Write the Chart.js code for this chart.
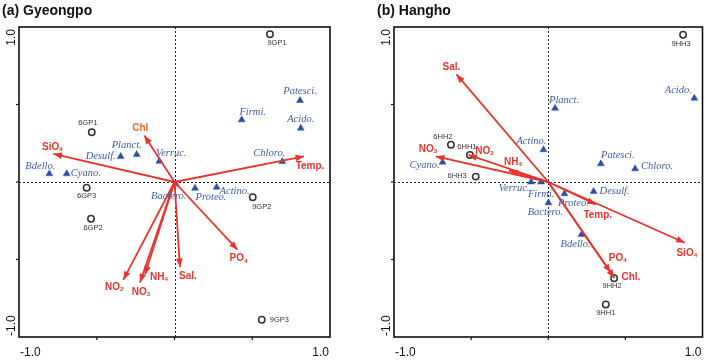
<!DOCTYPE html>
<html><head><meta charset="utf-8">
<script src="https://cdn.jsdelivr.net/npm/chart.js@4/dist/chart.umd.min.js"></script>
<style>
html,body{margin:0;padding:0;background:#fff;}
#wrap{position:relative;width:708px;height:360px;overflow:hidden;background:#fff;}
canvas{position:absolute;top:0;}
</style></head><body>
<div id="wrap">
<canvas id="ca" width="354" height="360" style="left:0"></canvas>
<canvas id="cb" width="354" height="360" style="left:354px"></canvas>
</div>
<script>
// ---------- data ----------
const endTickValues = [-1, 1];
const endTickLabels = ['-1.0', '1.0'];
const minorTickValues = [-0.5, 0, 0.5];

const titleA = '(a) Gyeongpo';
const sitesA  = ['9GP1','6GP1','6GP3','6GP2','9GP2','9GP3'];
const sitesAX = [0.614,-0.532,-0.565,-0.537,0.503,0.561];
const sitesAY = [0.953,0.321,-0.037,-0.237,-0.098,-0.889];
const taxaA  = ['Patesci.','Firmi.','Acido.','Chloro.','Planct.','Desulf.','Verruc.','Bdello.','Cyano.','Bactero.','Proteo.','Actino.'];
const taxaAX = [0.807,0.432,0.812,0.693,-0.243,-0.346,-0.098,-0.805,-0.693,0.008,0.132,0.271];
const taxaAY = [0.526,0.401,0.347,0.132,0.177,0.165,0.134,0.053,0.053,-0.012,-0.040,-0.034];
const varsA  = ['Temp.','Chl','SiO₄','PO₄','Sal.','NH₄','NO₃','NO₂'];
const varsAX = [0.833,-0.194,-0.779,0.405,0.035,-0.190,-0.222,-0.329];
const varsAY = [0.166,0.300,0.182,-0.437,-0.548,-0.597,-0.648,-0.631];

const titleB = '(b) Hangho';
const sitesB  = ['9HH3','6HH2','6HH1','6HH3','9HH2','9HH1'];
const sitesBX = [0.874,-0.631,-0.508,-0.470,0.427,0.373];
const sitesBY = [0.950,0.240,0.175,0.035,-0.621,-0.790];
const taxaB  = ['Acido.','Planct.','Actino.','Cyano.','Patesci.','Chloro.','Verruc.','Firmi.','Bactero.','Proteo.','Desulf.','Bdello.'];
const taxaBX = [0.947,0.044,-0.031,-0.685,0.341,0.563,-0.111,-0.046,0.001,0.105,0.294,0.216];
const taxaBY = [0.541,0.476,0.208,0.128,0.117,0.085,0.000,0.000,-0.134,-0.076,-0.061,-0.339];
const varsB  = ['Sal.','NO₃','NO₂','NH₄','Temp.','SiO₄','PO₄','Chl.'];
const varsBX = [-0.595,-0.728,-0.517,-0.255,0.308,0.885,0.405,0.429];
const varsBY = [0.694,0.165,0.175,0.074,-0.145,-0.392,-0.584,-0.619];

// ---------- label layout (pixel offsets from the mark, alignment) ----------
const siteLabPosA = [[7,9,'c'],[-4,-9,'c'],[0,8,'c'],[2,9,'c'],[9,10,'c'],[8,0,'l']];
const taxaLabPosA = [[0,-9,'c'],[11,-8,'c'],[0,-9,'c'],[-13,-8,'c'],[-10,-9,'c'],[-5,0,'r'],[12,-8,'c'],[-9,-8,'c'],[4,-1,'l'],[-7,12,'c'],[16,9,'c'],[18,4,'c']];
const varLabPosA  = [[6,10,'c'],[-4,-7,'c'],[-1,-7,'c'],[1,9,'c'],[8,9,'c'],[14,3,'c'],[1,10,'c'],[-9,7,'c']];
const varLabColA  = ['#e8342c','#ee6a2b','#e8342c','#e8342c','#e8342c','#e8342c','#e8342c','#e8342c'];

const siteLabPosB = [[-2,9,'c'],[-8,-8,'c'],[-3,-8,'c'],[-9,-1,'r'],[-2,8,'c'],[0,8,'c']];
const taxaLabPosB = [[-16,-8,'c'],[9,-8,'c'],[-12,-9,'c'],[-18,3,'c'],[17,-9,'c'],[6,-3,'l'],[-17,6,'c'],[0,12,'c'],[-3,9,'c'],[9,9,'c'],[6,0,'l'],[-6,10,'c']];
const varLabPosB  = [[-5,-7,'c'],[-8,-7,'c'],[16,-4,'c'],[4,-8,'c'],[2,11,'c'],[2,10,'c'],[7,-14,'c'],[7,-1,'l']];
const varLabColB  = varsB.map(() => '#e8342c');

// ---------- styles ----------
const RED = '#e8342c';
const BLUE = '#2f4fa6';
const BLUE_TXT = '#3f5cab';
const SANS = '"Liberation Sans", Arial, sans-serif';
const SERIF = '"Liberation Serif", "Times New Roman", serif';

function drawText(ctx, text, x, y, size, align, color, style) {
  const subs = '₀₁₂₃₄₅₆₇₈₉';
  let main = text, sub = '';
  const last = text.slice(-1);
  if (subs.indexOf(last) >= 0) { main = text.slice(0, -1); sub = String(subs.indexOf(last)); }
  const fam = (style && style.indexOf('italic') >= 0) ? SERIF : SANS;
  const f1 = (style || '') + ' ' + size + 'px ' + fam;
  const f2 = (style || '') + ' ' + (size * 0.62).toFixed(1) + 'px ' + SANS;
  ctx.font = f1; const w1 = ctx.measureText(main).width;
  ctx.font = f2; const w2 = sub ? ctx.measureText(sub).width : 0;
  const w = w1 + w2;
  let x0 = x - w / 2;
  if (align === 'l') x0 = x;
  if (align === 'r') x0 = x - w;
  ctx.fillStyle = color;
  ctx.textAlign = 'left';
  ctx.textBaseline = 'middle';
  ctx.font = f1; ctx.fillText(main, x0, y);
  if (sub) { ctx.font = f2; ctx.fillText(sub, x0 + w1, y + size * 0.22); }
}

function makeChart(id, title, sites, sx, sy, taxa, tx, ty, vars, vx, vy, sitePos, taxaPos, varPos, varCol, padLeft, padRight) {
  const datasets = [];
  vars.forEach((v, i) => {
    datasets.push({
      type: 'scatter', label: v, showLine: true,
      data: [{x: 0, y: 0}, {x: vx[i], y: vy[i]}],
      borderColor: RED, borderWidth: 1.8, pointRadius: 0
    });
  });
  datasets.push({
    type: 'scatter', label: 'taxa',
    data: taxa.map((t, i) => ({x: tx[i], y: ty[i]})),
    pointStyle: 'triangle', pointRadius: 4, backgroundColor: BLUE, borderColor: BLUE, borderWidth: 0.5
  });
  datasets.push({
    type: 'scatter', label: 'sites',
    data: sites.map((s, i) => ({x: sx[i], y: sy[i]})),
    pointStyle: 'circle', pointRadius: 3.2, backgroundColor: 'rgba(255,255,255,0)', borderColor: '#333', borderWidth: 1.5
  });

  const plugin = {
    id: 'biplot_' + id,
    beforeDatasetsDraw(chart) {
      const ctx = chart.ctx, X = chart.scales.x, Y = chart.scales.y, a = chart.chartArea;
      ctx.save();
      ctx.strokeStyle = '#222'; ctx.lineWidth = 1; ctx.setLineDash([2, 2]);
      const x0 = Math.round(X.getPixelForValue(0)) + 0.5;
      const y0 = Math.round(Y.getPixelForValue(0)) + 0.5;
      ctx.beginPath(); ctx.moveTo(x0, a.top); ctx.lineTo(x0, a.bottom); ctx.stroke();
      ctx.beginPath(); ctx.moveTo(a.left, y0); ctx.lineTo(a.right, y0); ctx.stroke();
      ctx.restore();
    },
    afterDatasetsDraw(chart) {
      const ctx = chart.ctx, X = chart.scales.x, Y = chart.scales.y;
      ctx.save();
      const ox = X.getPixelForValue(0), oy = Y.getPixelForValue(0);
      vars.forEach((v, i) => {
        const px = X.getPixelForValue(vx[i]), py = Y.getPixelForValue(vy[i]);
        const ang = Math.atan2(py - oy, px - ox);
        const L = 8.5, W = 3.3;
        ctx.fillStyle = RED;
        ctx.beginPath();
        ctx.moveTo(px, py);
        ctx.lineTo(px - L * Math.cos(ang) + W * Math.sin(ang), py - L * Math.sin(ang) - W * Math.cos(ang));
        ctx.lineTo(px - L * Math.cos(ang) - W * Math.sin(ang), py - L * Math.sin(ang) + W * Math.cos(ang));
        ctx.closePath(); ctx.fill();
      });
      ctx.restore();
    },
    afterDraw(chart) {
      const ctx = chart.ctx, X = chart.scales.x, Y = chart.scales.y, a = chart.chartArea;
      ctx.save();
      // frame
      ctx.strokeStyle = '#111'; ctx.lineWidth = 1.6; ctx.setLineDash([]);
      ctx.strokeRect(a.left, a.top, a.right - a.left, a.bottom - a.top);
      // minor ticks
      ctx.lineWidth = 1.2;
      minorTickValues.forEach(t => {
        const px = X.getPixelForValue(t), py = Y.getPixelForValue(t);
        ctx.beginPath(); ctx.moveTo(px, a.bottom); ctx.lineTo(px, a.bottom + 3); ctx.stroke();
        ctx.beginPath(); ctx.moveTo(a.left, py); ctx.lineTo(a.left - 3, py); ctx.stroke();
      });
      // end tick labels
      ctx.fillStyle = '#111'; ctx.font = '12px ' + SANS; ctx.textBaseline = 'alphabetic';
      endTickValues.forEach((t, i) => {
        const px = X.getPixelForValue(t);
        ctx.textAlign = t < 0 ? 'left' : 'right';
        ctx.fillText(endTickLabels[i], px + (t < 0 ? 1 : -1), 356);
        const py = Y.getPixelForValue(t);
        ctx.save();
        ctx.translate(a.left - 4, py + (t < 0 ? -1 : 2));
        ctx.rotate(-Math.PI / 2);
        ctx.textAlign = t < 0 ? 'left' : 'right';
        ctx.fillText(endTickLabels[i], 0, 0);
        ctx.restore();
      });
      // title
      ctx.font = 'bold 14px ' + SANS; ctx.textAlign = 'left'; ctx.fillStyle = '#111';
      ctx.fillText(title, a.left - 17, 15);
      // site labels
      sites.forEach((s, i) => {
        const p = sitePos[i];
        drawText(ctx, s, X.getPixelForValue(sx[i]) + p[0], Y.getPixelForValue(sy[i]) + p[1], 7.5, p[2], '#333', '');
      });
      // taxa labels
      taxa.forEach((s, i) => {
        const p = taxaPos[i];
        drawText(ctx, s, X.getPixelForValue(tx[i]) + p[0], Y.getPixelForValue(ty[i]) + p[1], 10.5, p[2], BLUE_TXT, 'italic');
      });
      // variable labels
      vars.forEach((s, i) => {
        const p = varPos[i];
        drawText(ctx, s, X.getPixelForValue(vx[i]) + p[0], Y.getPixelForValue(vy[i]) + p[1], 10, p[2], varCol[i], 'bold');
      });
      ctx.restore();
    }
  };

  return new Chart(document.getElementById(id), {
    type: 'scatter',
    data: { datasets },
    options: {
      responsive: false, animation: false, events: [],
      layout: { padding: { left: padLeft, right: padRight, top: 27, bottom: 23 } },
      plugins: { legend: { display: false }, tooltip: { enabled: false }, title: { display: false } },
      scales: {
        x: { type: 'linear', min: -1, max: 1, display: false },
        y: { type: 'linear', min: -1, max: 1, display: false }
      }
    },
    plugins: [plugin]
  });
}

makeChart('ca', titleA, sitesA, sitesAX, sitesAY, taxaA, taxaAX, taxaAY, varsA, varsAX, varsAY,
  siteLabPosA, taxaLabPosA, varLabPosA, varLabColA, 19, 24);
makeChart('cb', titleB, sitesB, sitesBX, sitesBY, taxaB, taxaBX, taxaBY, varsB, varsBX, varsBY,
  siteLabPosB, taxaLabPosB, varLabPosB, varLabColB, 40, 4);
</script>
</body></html>
